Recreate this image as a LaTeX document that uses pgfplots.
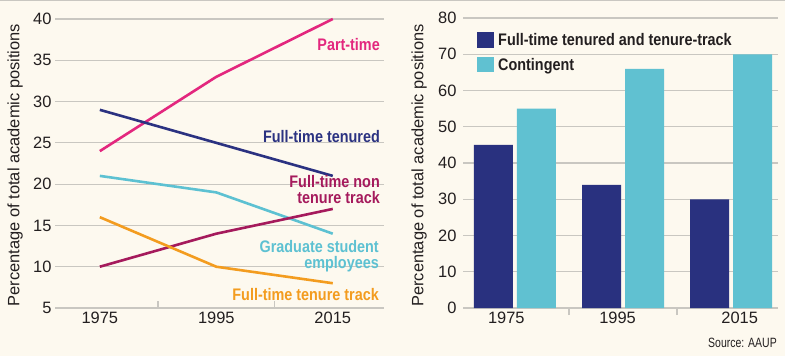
\documentclass[border=0pt]{standalone}
\usepackage{fontspec}
\setmainfont{Liberation Sans}
\newfontfamily\condfont[FakeStretch=0.86]{Liberation Sans}
\newfontfamily\srcfont[FakeStretch=0.78]{Liberation Sans}
\usepackage{pgfplots}
\pgfplotsset{compat=1.18}
\definecolor{bg}{HTML}{FDF9EF}
\definecolor{gridc}{HTML}{C9C7C1}
\definecolor{txt}{HTML}{231F20}
\definecolor{pt}{HTML}{E3277E}
\definecolor{ften}{HTML}{2B3281}
\definecolor{grad}{HTML}{5DC1D2}
\definecolor{fnt}{HTML}{A51A5C}
\definecolor{ftt}{HTML}{F39C1F}
\definecolor{barnavy}{HTML}{29317F}
\definecolor{barcyan}{HTML}{60C1D1}
\pgfplotsset{
  common/.style={
    scale only axis,
    anchor=south west,
    axis line style={draw=none},
    ymajorgrids,
    grid style={gridc, line width=1.2bp},
    major tick length=0pt,
    minor tick length=7bp,
    tick align=inside,
    xtick pos=bottom,
    ytick pos=left,
    minor tick style={gridc, line width=1.2bp},
    tick label style={font=\fontsize{16.5}{16.5}\selectfont, text=txt},
    /pgf/number format/assume math mode=true,
    /pgf/number format/1000 sep={},
    clip=false,
  }
}
\begin{document}
\begin{tikzpicture}[x=1bp,y=1bp]
\path[use as bounding box] (0,0) rectangle (785,356);
\fill[bg] (0,0) rectangle (785,356);
\draw[gridc, line width=1bp] (0,355.5) -- (785,355.5);

% Left panel
\begin{axis}[common,
  at={(55bp,48bp)}, width=329bp, height=289bp,
  xmin=1967.3, xmax=2023.8, ymin=5, ymax=40,
  xtick={1975,1995,2015}, minor xtick={1985,2005},
  ytick={5,10,...,40},
]
\addplot[pt, line width=2.6bp] coordinates {(1975,24) (1995,33) (2015,40)};
\addplot[ften, line width=2.6bp] coordinates {(1975,29) (1995,25) (2015,21)};
\addplot[grad, line width=2.6bp] coordinates {(1975,21) (1995,19) (2015,14)};
\addplot[fnt, line width=2.6bp] coordinates {(1975,10) (1995,14) (2015,17)};
\addplot[ftt, line width=2.6bp] coordinates {(1975,16) (1995,10) (2015,8)};
\end{axis}

\begin{scope}[every node/.style={inner sep=0pt, anchor=base east, font=\condfont\bfseries\fontsize{16.8}{16.8}\selectfont}]
\node[text=pt] at (380,306) {Part-time};
\node[text=ften] at (380,213.3) {Full-time tenured};
\node[text=fnt] at (380,168.5) {Full-time non};
\node[text=fnt] at (380,152.5) {tenure track};
\node[text=grad] at (379,103.5) {Graduate student};
\node[text=grad] at (379,87.5) {employees};
\node[text=ftt] at (379,56) {Full-time tenure track};
\end{scope}

\node[rotate=90, text=txt, font=\fontsize{16.5}{16.5}\selectfont, inner sep=0pt] at (15,191) {Percentage of total academic positions};

% Right panel
\begin{axis}[common,
  at={(463bp,48bp)}, width=315bp, height=290bp,
  xmin=-0.481, xmax=2.435, ymin=0, ymax=80,
  ybar=4bp, bar width=39bp,
  xtick={-0.08,0.95,2.08}, xticklabels={1975,1995,2015},
  minor xtick={0.5,1.5},
  ytick={0,10,...,80},
  yticklabel style={xshift=-3bp},
]
\addplot[fill=barnavy, draw=none] coordinates {(0,45) (1,34) (2,30)};
\addplot[fill=barcyan, draw=none] coordinates {(0,55) (1,66) (2,70)};
\end{axis}

\fill[barnavy] (477,308) rectangle (494,324);
\fill[barcyan] (477,284) rectangle (494,299);
\begin{scope}[every node/.style={inner sep=0pt, anchor=base west, text=txt, font=\condfont\bfseries\fontsize{16.8}{16.8}\selectfont}]
\node at (498,311) {Full-time tenured and tenure-track};
\node at (498,286) {Contingent};
\end{scope}

\node[rotate=90, text=txt, font=\fontsize{16.5}{16.5}\selectfont, inner sep=0pt] at (419,190.5) {Percentage of total academic positions};

\node[anchor=base east, inner sep=0pt, text=txt, font=\srcfont\fontsize{13.5}{13.5}\selectfont] at (777,9) {Source: AAUP};
\end{tikzpicture}
\end{document}
